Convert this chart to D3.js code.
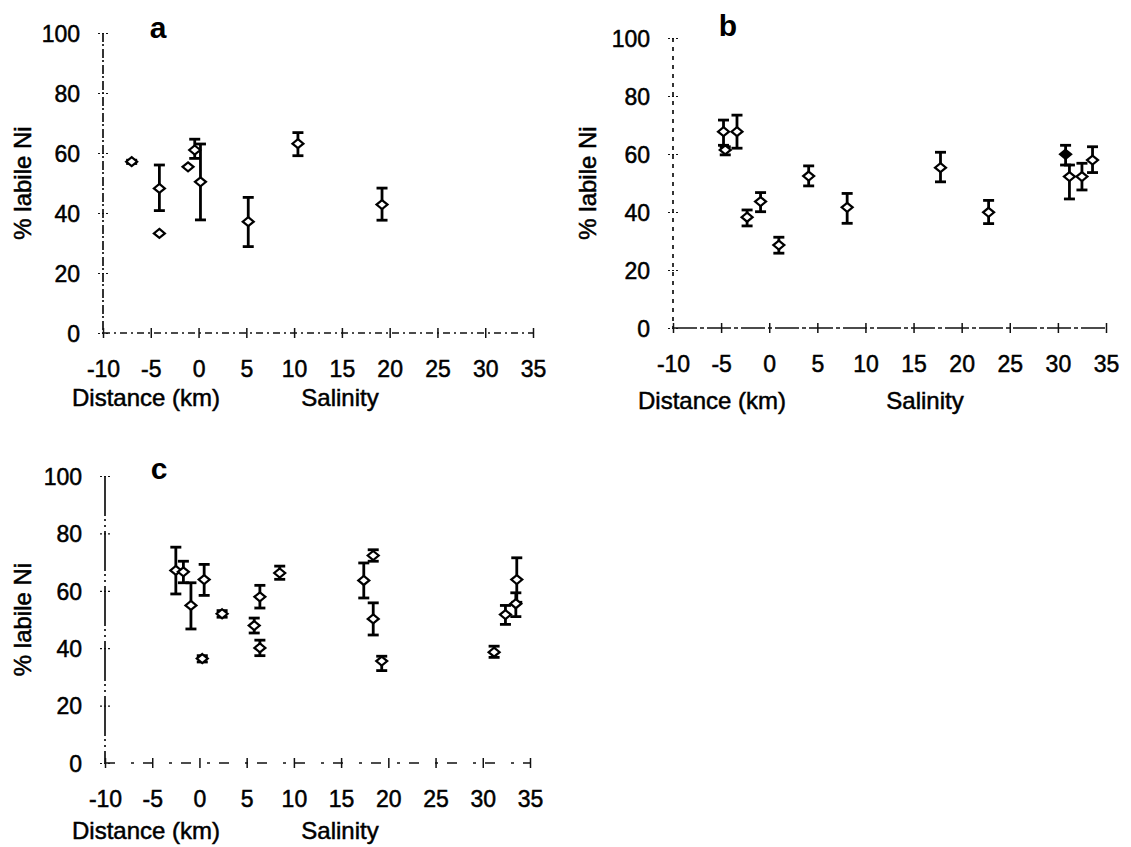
<!DOCTYPE html>
<html>
<head>
<meta charset="utf-8">
<script src="https://cdn.jsdelivr.net/npm/d3@7"></script>
<style>
  body { margin: 0; background: #fff; }
  svg { font-family: "Liberation Sans", Arial, sans-serif; }
</style>
</head>
<body>
<svg id="chart" width="1131" height="847"></svg>
<script>
// x 轴刻度与 y 轴刻度
var xTicks = [-10, -5, 0, 5, 10, 15, 20, 25, 30, 35];
var yTicks = [0, 20, 40, 60, 80, 100];

// 图 a 数据：横坐标（距离/盐度），%labile Ni，误差下限与上限（null 表示无误差棒）
var aX    = [-7.0, -4.1, -4.1, -1.1, -0.4, 0.2, 5.2, 10.4, 19.2];
var aNi   = [57.1, 48.2, 33.2, 55.4, 61.0, 50.4, 37.1, 63.1, 42.8];
var aLow  = [56.5, 40.8, null, null, 58.2, 37.7, 28.8, 59.1, 37.6];
var aHigh = [57.6, 56.0, null, null, 64.6, 63.0, 45.2, 66.8, 48.3];

// 图 b 数据
var bX    = [-4.75, -3.35, -4.57, -2.3, -0.9, 1.0, 4.1, 8.1, 17.8, 22.8, 30.8, 31.2, 32.5, 33.6];
var bNi   = [67.7, 67.7, 61.4, 38.2, 43.6, 28.6, 52.4, 41.6, 55.3, 39.9, 59.9, 52.2, 52.2, 57.9];
var bLow  = [63.0, 62.0, 59.7, 35.2, 40.1, 25.8, 49.0, 36.1, 50.4, 36.0, 56.2, 44.5, 47.6, 53.6];
var bHigh = [71.7, 73.4, 62.5, 40.7, 46.7, 31.3, 55.9, 46.4, 60.6, 44.0, 63.0, 56.2, 56.8, 62.5];
var bFilled = [false, false, false, false, false, false, false, false, false, false, true, false, false, false];

// 图 c 数据
var cX    = [-2.5, -1.7, -0.9, 0.3, 0.5, 2.4, 5.8, 6.4, 6.4, 8.5, 17.4, 18.4, 18.4, 19.3, 31.2, 32.4, 33.5, 33.6];
var cNi   = [67.1, 66.6, 54.9, 36.4, 63.9, 52.0, 47.9, 57.9, 40.1, 66.2, 63.6, 72.3, 50.2, 35.5, 38.6, 51.7, 55.5, 63.9];
var cLow  = [58.9, 62.8, 46.7, 35.2, 58.4, 50.8, 45.3, 54.0, 37.4, 64.0, 57.5, 70.3, 44.6, 32.2, 36.8, 48.3, 51.0, 56.0];
var cHigh = [75.2, 70.3, 62.8, 37.4, 69.2, 53.1, 50.5, 61.9, 42.8, 68.6, 69.7, 74.3, 55.8, 37.2, 40.7, 54.9, 59.3, 71.5];

var svg = d3.select("#chart");

// 每个面板的位置与轴线样式
var panels = [
  { name: "a", x: aX, y: aNi, lo: aLow, hi: aHigh, filled: null,
    xr: [103, 533], yr: [333, 33], labX: 158, labY: 38,
    yTitleX: 22, distX: 146, salX: 340, titleOff: 64,
    yDash: "9,2,2,3", xDash: "7,4,2,4" },
  { name: "b", x: bX, y: bNi, lo: bLow, hi: bHigh, filled: bFilled,
    xr: [673, 1106], yr: [328, 38], labX: 728, labY: 36,
    yTitleX: 587, distX: 712, salX: 925, titleOff: 72,
    yDash: "4,5", xDash: "24,3,4,3" },
  { name: "c", x: cX, y: cNi, lo: cLow, hi: cHigh, filled: null,
    xr: [105, 530], yr: [763, 476], labX: 159, labY: 479,
    yTitleX: 22, distX: 146, salX: 340, titleOff: 67,
    yDash: "40,3,2,4,2,4", xDash: "10,16,3,9" }
];

var fmt = function (d) { return String(d); };

panels.forEach(function (p) {
  var x = d3.scaleLinear().domain([-10, 35]).range(p.xr);
  var y = d3.scaleLinear().domain([0, 100]).range(p.yr);
  var g = svg.append("g");

  // 坐标轴线（原图为扫描件，线条断续）
  g.append("line")
    .attr("x1", x(-10)).attr("x2", x(-10))
    .attr("y1", y(100)).attr("y2", y(0))
    .attr("stroke", "#111").attr("stroke-width", 1.7)
    .attr("stroke-dasharray", p.yDash);
  g.append("line")
    .attr("x1", x(-10)).attr("x2", x(35))
    .attr("y1", y(0)).attr("y2", y(0))
    .attr("stroke", "#111").attr("stroke-width", 1.7)
    .attr("stroke-dasharray", p.xDash);

  // x 轴刻度：穿过轴线的短竖线
  var xAxis = g.append("g")
    .attr("transform", "translate(0," + y(0) + ")")
    .call(d3.axisBottom(x).tickValues(xTicks).tickFormat(fmt).tickSize(4).tickPadding(0));
  xAxis.select(".domain").remove();
  xAxis.selectAll(".tick line").attr("y1", -5).attr("y2", 5)
    .attr("stroke", "#111").attr("stroke-width", 1.5);
  xAxis.selectAll(".tick text")
    .attr("y", 28).attr("dy", "0.71em")
    .attr("font-size", 23).attr("fill", "#000")
    .attr("stroke", "#000").attr("stroke-width", 0.5);

  // y 轴刻度（短线穿过轴线）
  var yAxis = g.append("g")
    .attr("transform", "translate(" + x(-10) + ",0)")
    .call(d3.axisLeft(y).tickValues(yTicks).tickFormat(fmt).tickSize(5).tickPadding(0));
  yAxis.select(".domain").remove();
  yAxis.selectAll(".tick line").attr("x1", 5)
    .attr("stroke", "#111").attr("stroke-width", 1.2)
    .attr("stroke-dasharray", "2,2");
  yAxis.selectAll(".tick text")
    .attr("x", -23).attr("dy", "0.36em")
    .attr("font-size", 23).attr("fill", "#000")
    .attr("stroke", "#000").attr("stroke-width", 0.5);

  // 面板标号
  g.append("text")
    .attr("x", p.labX).attr("y", p.labY)
    .attr("text-anchor", "middle")
    .attr("font-size", 30).attr("font-weight", "bold")
    .text(p.name);

  // 轴标题
  g.append("text")
    .attr("transform", "translate(" + p.yTitleX + "," + ((p.yr[0] + p.yr[1]) / 2) + ") rotate(-90)")
    .attr("text-anchor", "middle").attr("dy", "0.36em")
    .attr("font-size", 24).attr("stroke", "#000").attr("stroke-width", 0.5)
    .text("% labile Ni");
  g.append("text")
    .attr("x", p.distX).attr("y", y(0) + p.titleOff).attr("dy", "0.36em")
    .attr("text-anchor", "middle")
    .attr("font-size", 24).attr("stroke", "#000").attr("stroke-width", 0.5)
    .text("Distance (km)");
  g.append("text")
    .attr("x", p.salX).attr("y", y(0) + p.titleOff).attr("dy", "0.36em")
    .attr("text-anchor", "middle")
    .attr("font-size", 24).attr("stroke", "#000").attr("stroke-width", 0.5)
    .text("Salinity");

  var idx = d3.range(p.x.length);

  // 误差棒
  var eb = g.selectAll("g.err")
    .data(idx.filter(function (i) { return p.lo[i] != null; }))
    .enter().append("g")
    .attr("class", "err")
    .attr("stroke", "#000").attr("stroke-width", 2.8);
  eb.append("line")
    .attr("x1", function (i) { return x(p.x[i]); })
    .attr("x2", function (i) { return x(p.x[i]); })
    .attr("y1", function (i) { return y(p.lo[i]); })
    .attr("y2", function (i) { return y(p.hi[i]); });
  eb.append("line")
    .attr("x1", function (i) { return x(p.x[i]) - 5.5; })
    .attr("x2", function (i) { return x(p.x[i]) + 5.5; })
    .attr("y1", function (i) { return y(p.lo[i]); })
    .attr("y2", function (i) { return y(p.lo[i]); });
  eb.append("line")
    .attr("x1", function (i) { return x(p.x[i]) - 5.5; })
    .attr("x2", function (i) { return x(p.x[i]) + 5.5; })
    .attr("y1", function (i) { return y(p.hi[i]); })
    .attr("y2", function (i) { return y(p.hi[i]); });

  // 空心菱形标记
  g.selectAll("path.pt")
    .data(idx)
    .enter().append("path")
    .attr("class", "pt")
    .attr("d", "M0,-4.5L5.5,0L0,4.5L-5.5,0Z")
    .attr("transform", function (i) { return "translate(" + x(p.x[i]) + "," + y(p.y[i]) + ")"; })
    .attr("fill", function (i) { return p.filled && p.filled[i] ? "#000" : "#fff"; })
    .attr("stroke", "#000").attr("stroke-width", 2.2);
});
</script>
</body>
</html>
